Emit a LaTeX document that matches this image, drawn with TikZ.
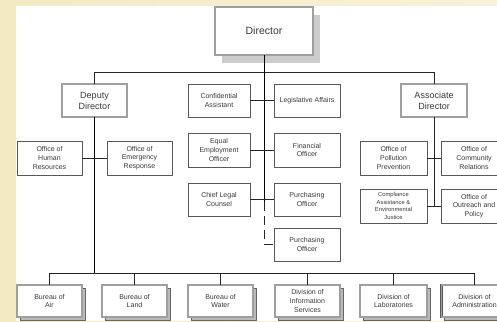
\documentclass[tikz,border=0pt]{standalone}
\usepackage{fontspec}
\setmainfont{Liberation Sans}
\usetikzlibrary{shadows}
\definecolor{creamA}{HTML}{F3EAC3}
\definecolor{creamB}{HTML}{F8F2DC}
\definecolor{txt}{HTML}{3A3A3A}
\begin{document}
\begin{tikzpicture}[x=1pt,y=-1pt,
  box/.style={draw=gray!70!black, line width=0.5pt, fill=white, inner sep=1pt,
    align=center, text=txt, font=\fontsize{7}{8.8}\selectfont,
    minimum width=65pt, minimum height=33pt},
  dbox/.style={box, draw=black!65, line width=0.6pt, double=gray!75, double distance=1.4pt},
  bureau/.style={dbox, general shadow={shadow xshift=3pt, shadow yshift=-3pt,
    draw=black!60, fill=gray!55, line width=0.5pt}},
  conn/.style={draw=black!85, line width=0.7pt},
  thick conn/.style={draw=black, line width=1.1pt}]
\path[use as bounding box] (0,0) rectangle (497,321);
\clip (0,0) rectangle (497,321);
\shade[left color=creamA, right color=creamB] (0,0) rectangle (497,321);
\fill[white] (16,6) rectangle (497,321);

% top
\node[dbox, minimum width=98pt, minimum height=48pt, font=\fontsize{10.5}{12}\selectfont,
  drop shadow={shadow xshift=7pt, shadow yshift=-8pt, fill=gray!40, opacity=1}]
  (dir) at (264,31) {Director};
\node[dbox, font=\fontsize{9}{11}\selectfont] (dep) at (94.5,100.5) {Deputy\\Director};
\node[dbox, minimum width=66pt, font=\fontsize{9}{11}\selectfont] (asc) at (434,100.5) {Associate\\Director};

% centre column
\node[box, minimum width=62pt] (ca) at (219,100.5) {Confidential\\Assistant};
\node[box, minimum width=66pt] (la) at (307,100.5) {Legislative Affairs};
\node[box, minimum width=62pt, minimum height=34pt] (eeo) at (219,150) {Equal\\Employment\\Officer};
\node[box, minimum width=66pt, minimum height=34pt] (fo) at (307,150) {Financial\\Officer};
\node[box, minimum width=62pt] (clc) at (219,199.5) {Chief Legal\\Counsel};
\node[box, minimum width=66pt] (po1) at (307,199.5) {Purchasing\\Officer};
\node[box, minimum width=66pt] (po2) at (307,244.5) {Purchasing\\Officer};

% left
\node[box, minimum height=34pt] (hr) at (49.5,158) {Office of\\Human\\Resources};
\node[box, minimum height=34pt] (er) at (139.5,158) {Office of\\Emergency\\Response};

% right
\node[box, minimum width=67pt, minimum height=34pt] (opp) at (393.5,158) {Office of\\Pollution\\Prevention};
\node[box, minimum width=66pt, minimum height=34pt] (ocr) at (474,158) {Office of\\Community\\Relations};
\node[box, minimum width=67pt, minimum height=34pt, font=\fontsize{5.8}{7.5}\selectfont] (caej) at (393.5,206) {Compliance\\Assistance \&\\Environmental\\Justice};
\node[box, minimum width=66pt, minimum height=34pt] (oop) at (474,206) {Office of\\Outreach and\\Policy};

% bottom row
\node[bureau, minimum height=32pt] (b1) at (49.5,301) {Bureau of\\Air};
\node[bureau, minimum height=32pt] (b2) at (134.5,301) {Bureau of\\Land};
\node[bureau, minimum height=32pt] (b3) at (220.5,301) {Bureau of\\Water};
\node[bureau, minimum height=32pt] (b4) at (307.5,301) {Division of\\Information\\Services};
\node[bureau, minimum height=32pt, minimum width=67pt] (b5) at (393.5,301) {Division of\\Laboratories};
\node[bureau, minimum height=32pt, minimum width=66pt] (b6) at (474.5,301) {Division of\\Administration};

\coordinate (topbus) at (0,72);
\coordinate (botbus) at (0,273);
\coordinate (solidend) at (264,202);

% connectors
\draw[conn] (dep.north) -- (dep.north |- topbus) -- (asc.north |- topbus) -- (asc.north);
\draw[conn, draw=black, line width=0.9pt] (dir.south) -- (solidend);
\draw[conn, dash pattern=on 9pt off 5pt] (solidend) -- (solidend |- po2.west) -- (po2.west);
\draw[thick conn] (dep.south) -- (dep.south |- botbus);
\draw[conn] (b1.north |- botbus) -- (b6.north |- botbus);
\foreach \b in {b1,b2,b3,b4,b5,b6} \draw[conn] (\b.north |- botbus) -- (\b.north);
\draw[conn] (hr.east) -- (er.west);
\draw[conn] (ca.east) -- (la.west);
\draw[conn] (eeo.east) -- (fo.west);
\draw[conn] (clc.east) -- (po1.west);
\draw[conn] (opp.east) -- (ocr.west);
\draw[conn] (caej.east) -- (oop.west);
\draw[conn] (asc.south) -- (asc.south |- caej.east);
\end{tikzpicture}
\end{document}
